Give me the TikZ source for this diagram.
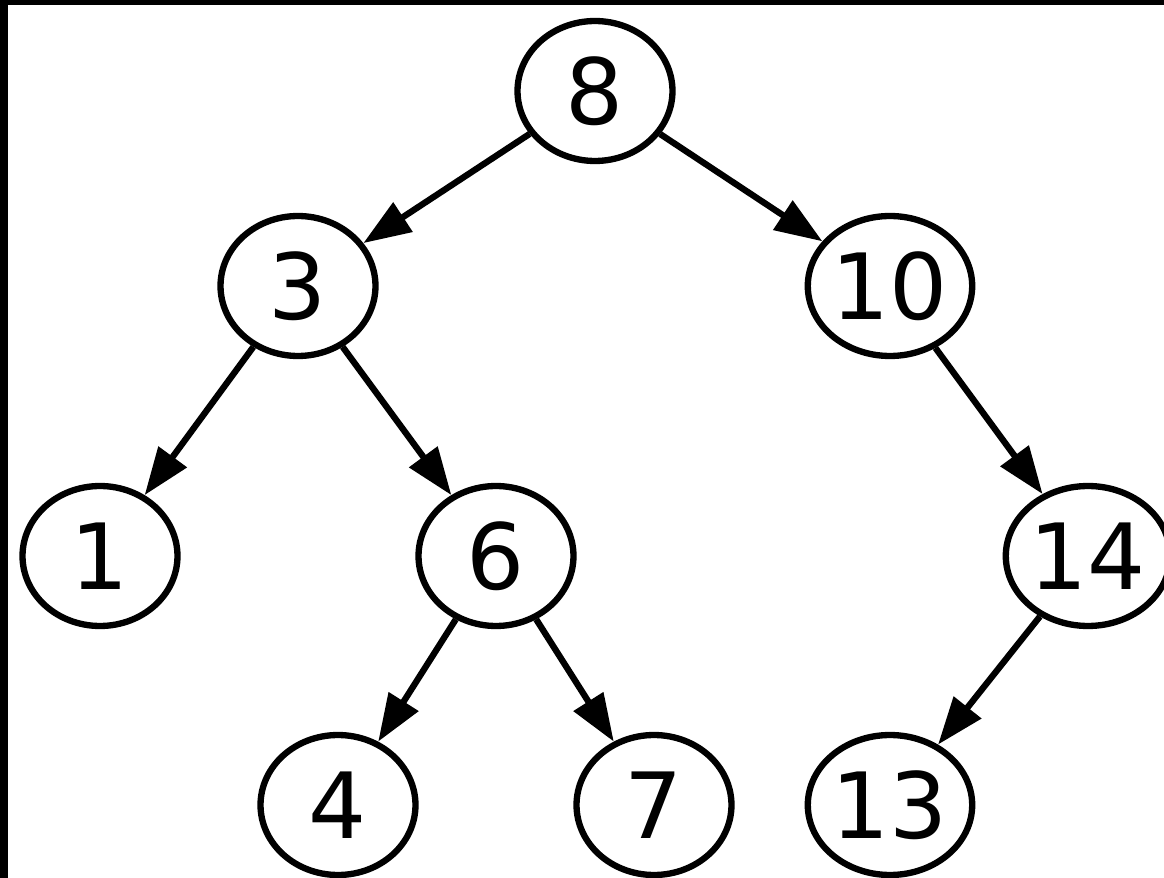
\documentclass[tikz,border=0pt]{standalone}
\usepackage{fontspec}
\setmainfont{DejaVu Sans}
\usetikzlibrary{shapes,arrows.meta,positioning}

\tikzset{
    keynode/.style={ellipse, draw=black, fill=white, line width=3.6pt,
        minimum width=3.1cm, minimum height=2.8cm, inner sep=0pt,
        font=\fontsize{52}{60}\selectfont},
    treeedge/.style={line width=3.6pt,
        -{Triangle[length=0.95cm, width=0.68cm]}}
}

\begin{document}
\begin{tikzpicture}[x=0.02cm, y=-0.02cm]
% frame
\fill[black] (0,0) rectangle (1164,878);
\fill[white] (8,5) rectangle (1164,878);
\useasboundingbox (0,0) rectangle (1164,878);

% nodes
\node[keynode] (n8)  at (595,91)  {8};
\node[keynode] (n3)  at (298,286) {3};
\node[keynode] (n10) at (890,286) {10};
\node[keynode] (n1)  at (100,556) {1};
\node[keynode] (n6)  at (496,556) {6};
\node[keynode] (n14) at (1088,556) {14};
\node[keynode] (n4)  at (338,805) {4};
\node[keynode] (n7)  at (654,805) {7};
\node[keynode] (n13) at (890,805) {13};

% edges
\draw[treeedge] (n8) -- (n3);
\draw[treeedge] (n8) -- (n10);
\draw[treeedge] (n3) -- (n1);
\draw[treeedge] (n3) -- (n6);
\draw[treeedge] (n10) -- (n14);
\draw[treeedge] (n6) -- (n4);
\draw[treeedge] (n6) -- (n7);
\draw[treeedge] (n14) -- (n13);
\end{tikzpicture}
\end{document}
